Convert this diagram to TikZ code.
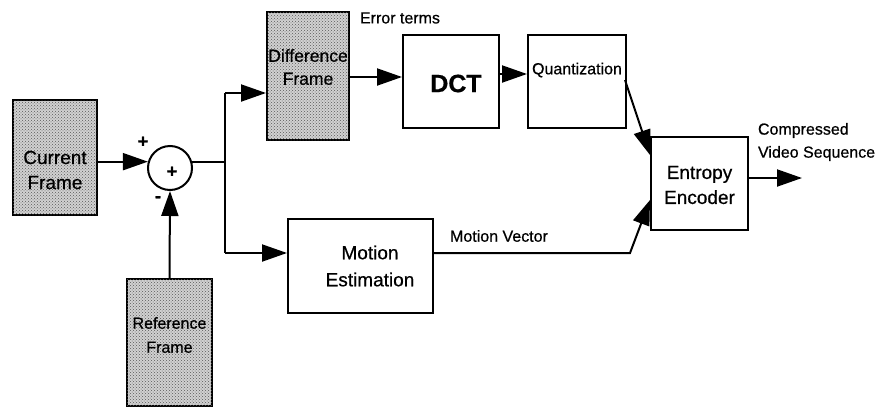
\documentclass[tikz,border=0pt]{standalone}
\usepackage{fontspec}
\setmainfont[FakeBold=0.6]{Liberation Sans}
\usetikzlibrary{arrows.meta,calc,patterns}
\begin{document}
\begin{tikzpicture}[x=1pt,y=-1pt,
  line width=2pt,
  frame/.style={draw, line width=2pt, fill=black!18,
    postaction={pattern=crosshatch dots, pattern color=black!65}, inner sep=0pt},
  block/.style={draw, line width=2pt, fill=white, inner sep=0pt},
  txt/.style={align=center, inner sep=0pt},
  tag/.style={font=\fontsize{16}{23}\selectfont, align=left, inner sep=0pt},
  sign/.style={font=\fontsize{18}{18}\selectfont\bfseries, inner sep=0pt},
  flow/.style={-{Triangle[length=25pt,width=17pt]}, line width=2pt},
]
\useasboundingbox (0,0) rectangle (875,407);

% image frames (shaded)
\node[frame, minimum width=84pt, minimum height=115pt] (cur) at (55,157.5) {};
\node[frame, minimum width=82pt, minimum height=128pt] (diff) at (308,76) {};
\node[frame, minimum width=85pt, minimum height=127pt] (ref) at (169.5,342.5) {};

% processing blocks
\node[block, minimum width=96pt, minimum height=93pt] (dct) at (451,81.5) {};
\node[block, minimum width=98pt, minimum height=93pt] (quant) at (577,81.5) {};
\node[block, minimum width=97pt, minimum height=93pt] (ent) at (699.5,183.5) {};
\node[block, minimum width=145pt, minimum height=94pt] (me) at (360.5,266) {};

% summing junction
\node[draw, circle, line width=2pt, minimum size=44pt, inner sep=0pt] (sum) at (170,168) {};
\node[sign] (pin) at (172,172) {+};
\node[sign] (pa) at (143,142) {+};
\node[sign] (mb) at (158,199) {-};

% block texts
\node[txt, font=\fontsize{19}{25}\selectfont] (curt) at (55,170) {Current\\Frame};
\node[txt, font=\fontsize{17.5}{23}\selectfont] (difft) at (308,67) {Difference\\Frame};
\node[txt, font=\fontsize{16}{24}\selectfont] (reft) at (169.5,335) {Reference\\Frame};
\node[txt, font=\fontsize{25}{25}\selectfont\bfseries] (dctt) at (456,83.5) {DCT};
\node[txt, font=\fontsize{16}{20}\selectfont] (quantt) at (577,70) {Quantization};
\node[txt, font=\fontsize{19}{25}\selectfont] (entt) at (699.5,185) {Entropy\\Encoder};
\node[txt, font=\fontsize{19}{27}\selectfont] (met) at (370,266) {Motion\\Estimation};

% connector labels
\node[tag] (err) at (400,18) {Error terms};
\node[tag] (mvl) at (499,236) {Motion Vector};
\node[tag, anchor=west] (cvs) at (757,142) {Compressed\\Video Sequence};

% split point after the summer
\coordinate (jtop) at (225,93);
\coordinate (jbot) at (225,253);
\coordinate (mv) at (630,253);
\coordinate (out) at (802,178);

\draw[flow] (cur.east |- sum.164) -- (sum.164);
\draw (sum.16) -- (sum.16 -| jtop);
\draw (jtop) -- (jbot);
\draw[flow] (jtop) -- (jtop -| diff.west);
\draw[flow] (jbot) -- (jbot -| me.west);
\draw[flow] (ref.north) -- (sum.south);
\draw[flow] ($(diff.east)+(0,1)$) -- ($(diff.east -| dct.west)+(0,1)$);
\draw[flow] ($(dct.east)+(0,-7.5)$) -- ($(quant.west)+(0,-7.5)$);
\draw[flow] ($(quant.east)+(-2,-1.5)$) -- ($(ent.west)+(0,-28.5)$);
\draw[flow] (me.east |- mv) -- (mv) -- ($(ent.west)+(0,16.5)$);
\draw[flow] (ent.east |- out) -- (out);
\end{tikzpicture}
\end{document}
